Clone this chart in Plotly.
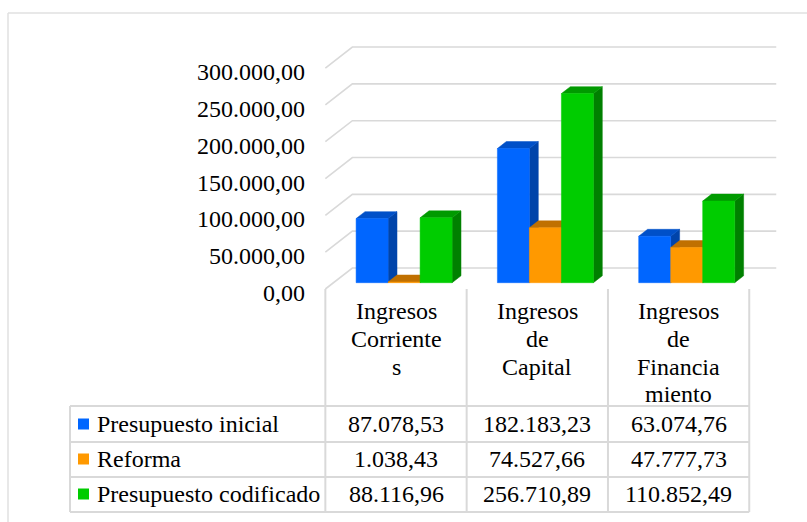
import plotly.graph_objects as go

# ---------------- data ----------------
categories = ["Ingresos Corrientes", "Ingresos de Capital", "Ingresos de Financiamiento"]
category_lines = [["Ingresos", "Corriente", "s"],
                  ["Ingresos", "de", "Capital"],
                  ["Ingresos", "de", "Financia", "miento"]]
series_names = ["Presupuesto inicial", "Reforma", "Presupuesto codificado"]
presupuesto_inicial = [87078.53, 182183.23, 63074.76]
reforma = [1038.43, 74527.66, 47777.73]
presupuesto_codificado = [88116.96, 256710.89, 110852.49]
tick_values = [0, 50000, 100000, 150000, 200000, 250000, 300000]
tick_labels = ["0,00", "50.000,00", "100.000,00", "150.000,00",
               "200.000,00", "250.000,00", "300.000,00"]

series_values = [presupuesto_inicial, reforma, presupuesto_codificado]
front_colors = ["#0066FF", "#FF9900", "#00CC00"]
top_colors = ["#0050C8", "#C07000", "#009A00"]
side_colors = ["#0044AA", "#B56A00", "#008000"]

# ---------------- layout geometry ----------------
W, H = 807, 522
PX_CAT = 141.3        # pixels per category
CAT0_PX = 396.0       # pixel x of first category centre (front)
ZERO_PX = 289.0       # pixel y of value 0 on front plane
PX_PER_VAL = 36.83 / 50000.0
DEPTH_DX, DEPTH_DY = 27.0, 21.0
FONT = "Liberation Serif"
GRID = "#d9d9d9"

def proj(xc, v, d):
    return xc + DEPTH_DX * d / PX_CAT, v + DEPTH_DY * d / PX_PER_VAL

def px_x(px):
    return (px - CAT0_PX) / PX_CAT

def py(px):
    return 1 - px / H

def es_fmt(v):
    s = f"{v:,.2f}"
    return s.replace(",", "X").replace(".", ",").replace("X", ".")

fig = go.Figure()

# gridlines (front diagonal + back wall)
gx, gy = [], []
for v in tick_values:
    for (xc, d) in [(-0.5, 0), (-0.5, 1), (2.5, 1)]:
        a, b = proj(xc, v, d)
        gx.append(a); gy.append(b)
    gx.append(None); gy.append(None)
fig.add_trace(go.Scatter(x=gx, y=gy, mode="lines",
                         line=dict(color=GRID, width=1.6), hoverinfo="skip"))

# 3D bars
BAR_W = 32.0 / PX_CAT
GROUP_W = 3 * BAR_W
D_FRONT, D_BACK = 0.30, 0.63

def poly(pts):
    xs = [p[0] for p in pts] + [pts[0][0]]
    ys = [p[1] for p in pts] + [pts[0][1]]
    return xs, ys

for i in range(len(categories)):
    for j, vals in enumerate(series_values):
        v = vals[i]
        left = i - GROUP_W / 2 + j * BAR_W
        right = left + BAR_W
        front = [proj(left, 0, D_FRONT), proj(right, 0, D_FRONT),
                 proj(right, v, D_FRONT), proj(left, v, D_FRONT)]
        top = [proj(left, v, D_FRONT), proj(right, v, D_FRONT),
               proj(right, v, D_BACK), proj(left, v, D_BACK)]
        side = [proj(right, 0, D_FRONT), proj(right, 0, D_BACK),
                proj(right, v, D_BACK), proj(right, v, D_FRONT)]
        for pts, col in [(side, side_colors[j]), (top, top_colors[j]), (front, front_colors[j])]:
            xs, ys = poly(pts)
            fig.add_trace(go.Scatter(x=xs, y=ys, mode="lines", fill="toself",
                                     fillcolor=col, line=dict(color=col, width=0.5),
                                     hoverinfo="skip", name=series_names[j]))

TXT = dict(family=FONT, size=24, color="black")
annotations = []
# value axis labels
for v, lab in zip(tick_values, tick_labels):
    annotations.append(dict(x=-0.5, y=v, xref="x", yref="y", text=lab, showarrow=False,
                            xanchor="right", yanchor="middle", xshift=-18, yshift=-4,
                            font=TXT))

# category header lines
LINE_CENTERS = [311, 339, 367, 394]
for i, lines in enumerate(category_lines):
    for k, t in enumerate(lines):
        annotations.append(dict(x=i, y=py(LINE_CENTERS[k]), xref="x", yref="paper", text=t,
                                showarrow=False, xanchor="center", yanchor="middle",
                                font=TXT))

# table rows
ROW_LINES = [406, 442, 477, 512]
ROW_CENTERS = [424, 459, 494]
shapes = []
for j, name in enumerate(series_names):
    rc = ROW_CENTERS[j]
    annotations.append(dict(x=95 / W, y=py(rc), xref="paper", yref="paper", text=name,
                            showarrow=False, xanchor="left", yanchor="middle",
                            font=TXT))
    shapes.append(dict(type="rect", xref="paper", yref="paper",
                       x0=78 / W, x1=89 / W, y0=py(rc + 5.5), y1=py(rc - 5.5),
                       fillcolor=front_colors[j], line=dict(width=0)))
    for i in range(len(categories)):
        annotations.append(dict(x=i, y=py(rc), xref="x", yref="paper",
                                text=es_fmt(series_values[j][i]), showarrow=False,
                                xanchor="center", yanchor="middle",
                                font=TXT))

# table grid
for xc in [-0.5, 0.5, 1.5, 2.5]:
    shapes.append(dict(type="line", xref="x", yref="paper", x0=xc, x1=xc,
                       y0=py(289), y1=py(ROW_LINES[-1]), line=dict(color=GRID, width=2)))
shapes.append(dict(type="line", xref="x", yref="paper", x0=px_x(70), x1=px_x(70),
                   y0=py(ROW_LINES[0]), y1=py(ROW_LINES[-1]), line=dict(color=GRID, width=2)))
for r in ROW_LINES:
    shapes.append(dict(type="line", xref="x", yref="paper", x0=px_x(70), x1=2.5,
                       y0=py(r), y1=py(r), line=dict(color=GRID, width=2)))

# outer chart border (left and top edges only visible)
shapes.append(dict(type="line", xref="paper", yref="paper", x0=8 / W, x1=8 / W,
                   y0=0, y1=py(13), line=dict(color="#e0e0e0", width=1.5)))
shapes.append(dict(type="line", xref="paper", yref="paper", x0=8 / W, x1=1,
                   y0=py(13), y1=py(13), line=dict(color="#e0e0e0", width=1.5)))

fig.update_layout(
    width=W, height=H, margin=dict(l=0, r=0, t=0, b=0),
    paper_bgcolor="white", plot_bgcolor="white", showlegend=False,
    xaxis=dict(visible=False, range=[px_x(0), px_x(W)], fixedrange=True),
    yaxis=dict(visible=False, range=[-(H - ZERO_PX) / PX_PER_VAL, ZERO_PX / PX_PER_VAL],
               fixedrange=True),
    annotations=annotations, shapes=shapes,
)

fig.write_html("out.html")
